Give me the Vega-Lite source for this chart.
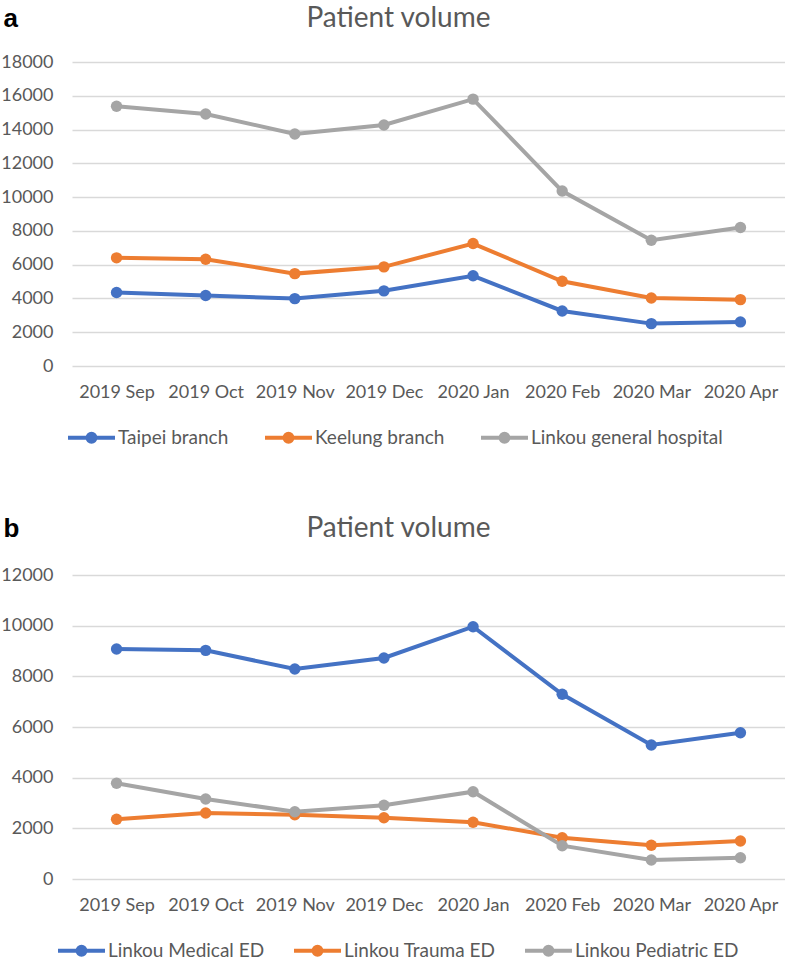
{
  "$schema": "https://vega.github.io/schema/vega-lite/v6.json",
  "background": "white",
  "padding": {"left": 0, "top": 4, "right": 0, "bottom": 0},
  "datasets": {
    "a": [
      {"month": "2019 Sep", "series": "Taipei branch", "value": 4350},
      {"month": "2019 Oct", "series": "Taipei branch", "value": 4170},
      {"month": "2019 Nov", "series": "Taipei branch", "value": 3990},
      {"month": "2019 Dec", "series": "Taipei branch", "value": 4450},
      {"month": "2020 Jan", "series": "Taipei branch", "value": 5340},
      {"month": "2020 Feb", "series": "Taipei branch", "value": 3260},
      {"month": "2020 Mar", "series": "Taipei branch", "value": 2510},
      {"month": "2020 Apr", "series": "Taipei branch", "value": 2610},
      {"month": "2019 Sep", "series": "Keelung branch", "value": 6405},
      {"month": "2019 Oct", "series": "Keelung branch", "value": 6325},
      {"month": "2019 Nov", "series": "Keelung branch", "value": 5470},
      {"month": "2019 Dec", "series": "Keelung branch", "value": 5870},
      {"month": "2020 Jan", "series": "Keelung branch", "value": 7250},
      {"month": "2020 Feb", "series": "Keelung branch", "value": 5020},
      {"month": "2020 Mar", "series": "Keelung branch", "value": 4030},
      {"month": "2020 Apr", "series": "Keelung branch", "value": 3930},
      {"month": "2019 Sep", "series": "Linkou general hospital", "value": 15380},
      {"month": "2019 Oct", "series": "Linkou general hospital", "value": 14925},
      {"month": "2019 Nov", "series": "Linkou general hospital", "value": 13740},
      {"month": "2019 Dec", "series": "Linkou general hospital", "value": 14270},
      {"month": "2020 Jan", "series": "Linkou general hospital", "value": 15800},
      {"month": "2020 Feb", "series": "Linkou general hospital", "value": 10360},
      {"month": "2020 Mar", "series": "Linkou general hospital", "value": 7450},
      {"month": "2020 Apr", "series": "Linkou general hospital", "value": 8200}
    ],
    "b": [
      {"month": "2019 Sep", "series": "Linkou Medical ED", "value": 9080},
      {"month": "2019 Oct", "series": "Linkou Medical ED", "value": 9025},
      {"month": "2019 Nov", "series": "Linkou Medical ED", "value": 8290},
      {"month": "2019 Dec", "series": "Linkou Medical ED", "value": 8725},
      {"month": "2020 Jan", "series": "Linkou Medical ED", "value": 9960},
      {"month": "2020 Feb", "series": "Linkou Medical ED", "value": 7290},
      {"month": "2020 Mar", "series": "Linkou Medical ED", "value": 5290},
      {"month": "2020 Apr", "series": "Linkou Medical ED", "value": 5775},
      {"month": "2019 Sep", "series": "Linkou Trauma ED", "value": 2357},
      {"month": "2019 Oct", "series": "Linkou Trauma ED", "value": 2605},
      {"month": "2019 Nov", "series": "Linkou Trauma ED", "value": 2538},
      {"month": "2019 Dec", "series": "Linkou Trauma ED", "value": 2420},
      {"month": "2020 Jan", "series": "Linkou Trauma ED", "value": 2238},
      {"month": "2020 Feb", "series": "Linkou Trauma ED", "value": 1630},
      {"month": "2020 Mar", "series": "Linkou Trauma ED", "value": 1330},
      {"month": "2020 Apr", "series": "Linkou Trauma ED", "value": 1500},
      {"month": "2019 Sep", "series": "Linkou Pediatric ED", "value": 3778},
      {"month": "2019 Oct", "series": "Linkou Pediatric ED", "value": 3158},
      {"month": "2019 Nov", "series": "Linkou Pediatric ED", "value": 2657},
      {"month": "2019 Dec", "series": "Linkou Pediatric ED", "value": 2909},
      {"month": "2020 Jan", "series": "Linkou Pediatric ED", "value": 3447},
      {"month": "2020 Feb", "series": "Linkou Pediatric ED", "value": 1315},
      {"month": "2020 Mar", "series": "Linkou Pediatric ED", "value": 750},
      {"month": "2020 Apr", "series": "Linkou Pediatric ED", "value": 841}
    ]
  },
  "config": {
    "font": "Lato",
    "view": {"stroke": null},
    "axis": {
      "labelColor": "#595959",
      "labelFontSize": 18,
      "domain": false,
      "ticks": false,
      "tickSize": 0
    },
    "axisX": {
      "grid": false, "labelAngle": 0, "labelPadding": 17,
      "titleFontSize": 28, "titleFontWeight": "normal", "titleColor": "#595959",
      "titleBaseline": "alphabetic", "titleAlign": "center", "titleX": 326, "titleY": -340
    },
    "axisY": {
      "grid": true, "gridColor": "#D9D9D9", "gridWidth": 1.5, "labelPadding": 19, "format": "d",
      "titleAngle": 0, "titleFont": "Liberation Sans", "titleFontSize": 26,
      "titleFontWeight": "bold", "titleColor": "#000000", "titleAlign": "left",
      "titleBaseline": "alphabetic", "titleX": -69, "titleY": -36
    },
    "legend": {
      "orient": "bottom",
      "direction": "horizontal",
      "title": null,
      "labelColor": "#595959",
      "labelFontSize": 19,
      "labelOffset": 17,
      "labelLimit": 0,
      "offset": 27,
      "symbolType": "M-4,0L4,0M-0.67,0A0.67,0.67 0 1,0 0.67,0A0.67,0.67 0 1,0 -0.67,0M-0.25,0A0.25,0.25 0 1,0 0.25,0A0.25,0.25 0 1,0 -0.25,0",
      "symbolSize": 138,
      "symbolStrokeWidth": 4
    }
  },
  "spacing": 54,
  "resolve": {"scale": {"color": "independent", "y": "independent"}},
  "vconcat": [
    {
      "width": 713,
      "height": 304,
      "data": {"name": "a"},
      "mark": {"type": "line", "strokeWidth": 4, "point": {"filled": true, "size": 130, "opacity": 1}},
      "encoding": {
        "x": {
          "field": "month", "type": "ordinal",
          "sort": ["2019 Sep", "2019 Oct", "2019 Nov", "2019 Dec", "2020 Jan", "2020 Feb", "2020 Mar", "2020 Apr"],
          "scale": {"type": "point", "padding": 0.5},
          "axis": {"title": "Patient volume"}
        },
        "y": {
          "field": "value", "type": "quantitative",
          "scale": {"domain": [0, 18000]},
          "axis": {
            "values": [0, 2000, 4000, 6000, 8000, 10000, 12000, 14000, 16000, 18000],
            "title": "a"
          }
        },
        "color": {
          "field": "series", "type": "nominal",
          "scale": {"domain": ["Taipei branch", "Keelung branch", "Linkou general hospital"], "range": ["#4472C4", "#ED7D31", "#A5A5A5"]},
          "legend": {"columnPadding": 28, "padding": 10, "offset": 17}
        }
      }
    },
    {
      "width": 713,
      "height": 304,
      "data": {"name": "b"},
      "mark": {"type": "line", "strokeWidth": 4, "point": {"filled": true, "size": 130, "opacity": 1}},
      "encoding": {
        "x": {
          "field": "month", "type": "ordinal",
          "sort": ["2019 Sep", "2019 Oct", "2019 Nov", "2019 Dec", "2020 Jan", "2020 Feb", "2020 Mar", "2020 Apr"],
          "scale": {"type": "point", "padding": 0.5},
          "axis": {"title": "Patient volume", "titleY": -343}
        },
        "y": {
          "field": "value", "type": "quantitative",
          "scale": {"domain": [0, 12000]},
          "axis": {
            "values": [0, 2000, 4000, 6000, 8000, 10000, 12000],
            "title": "b", "titleY": -39
          }
        },
        "color": {
          "field": "series", "type": "nominal",
          "scale": {"domain": ["Linkou Medical ED", "Linkou Trauma ED", "Linkou Pediatric ED"], "range": ["#4472C4", "#ED7D31", "#A5A5A5"]},
          "legend": {"columnPadding": 21}
        }
      }
    }
  ]
}
